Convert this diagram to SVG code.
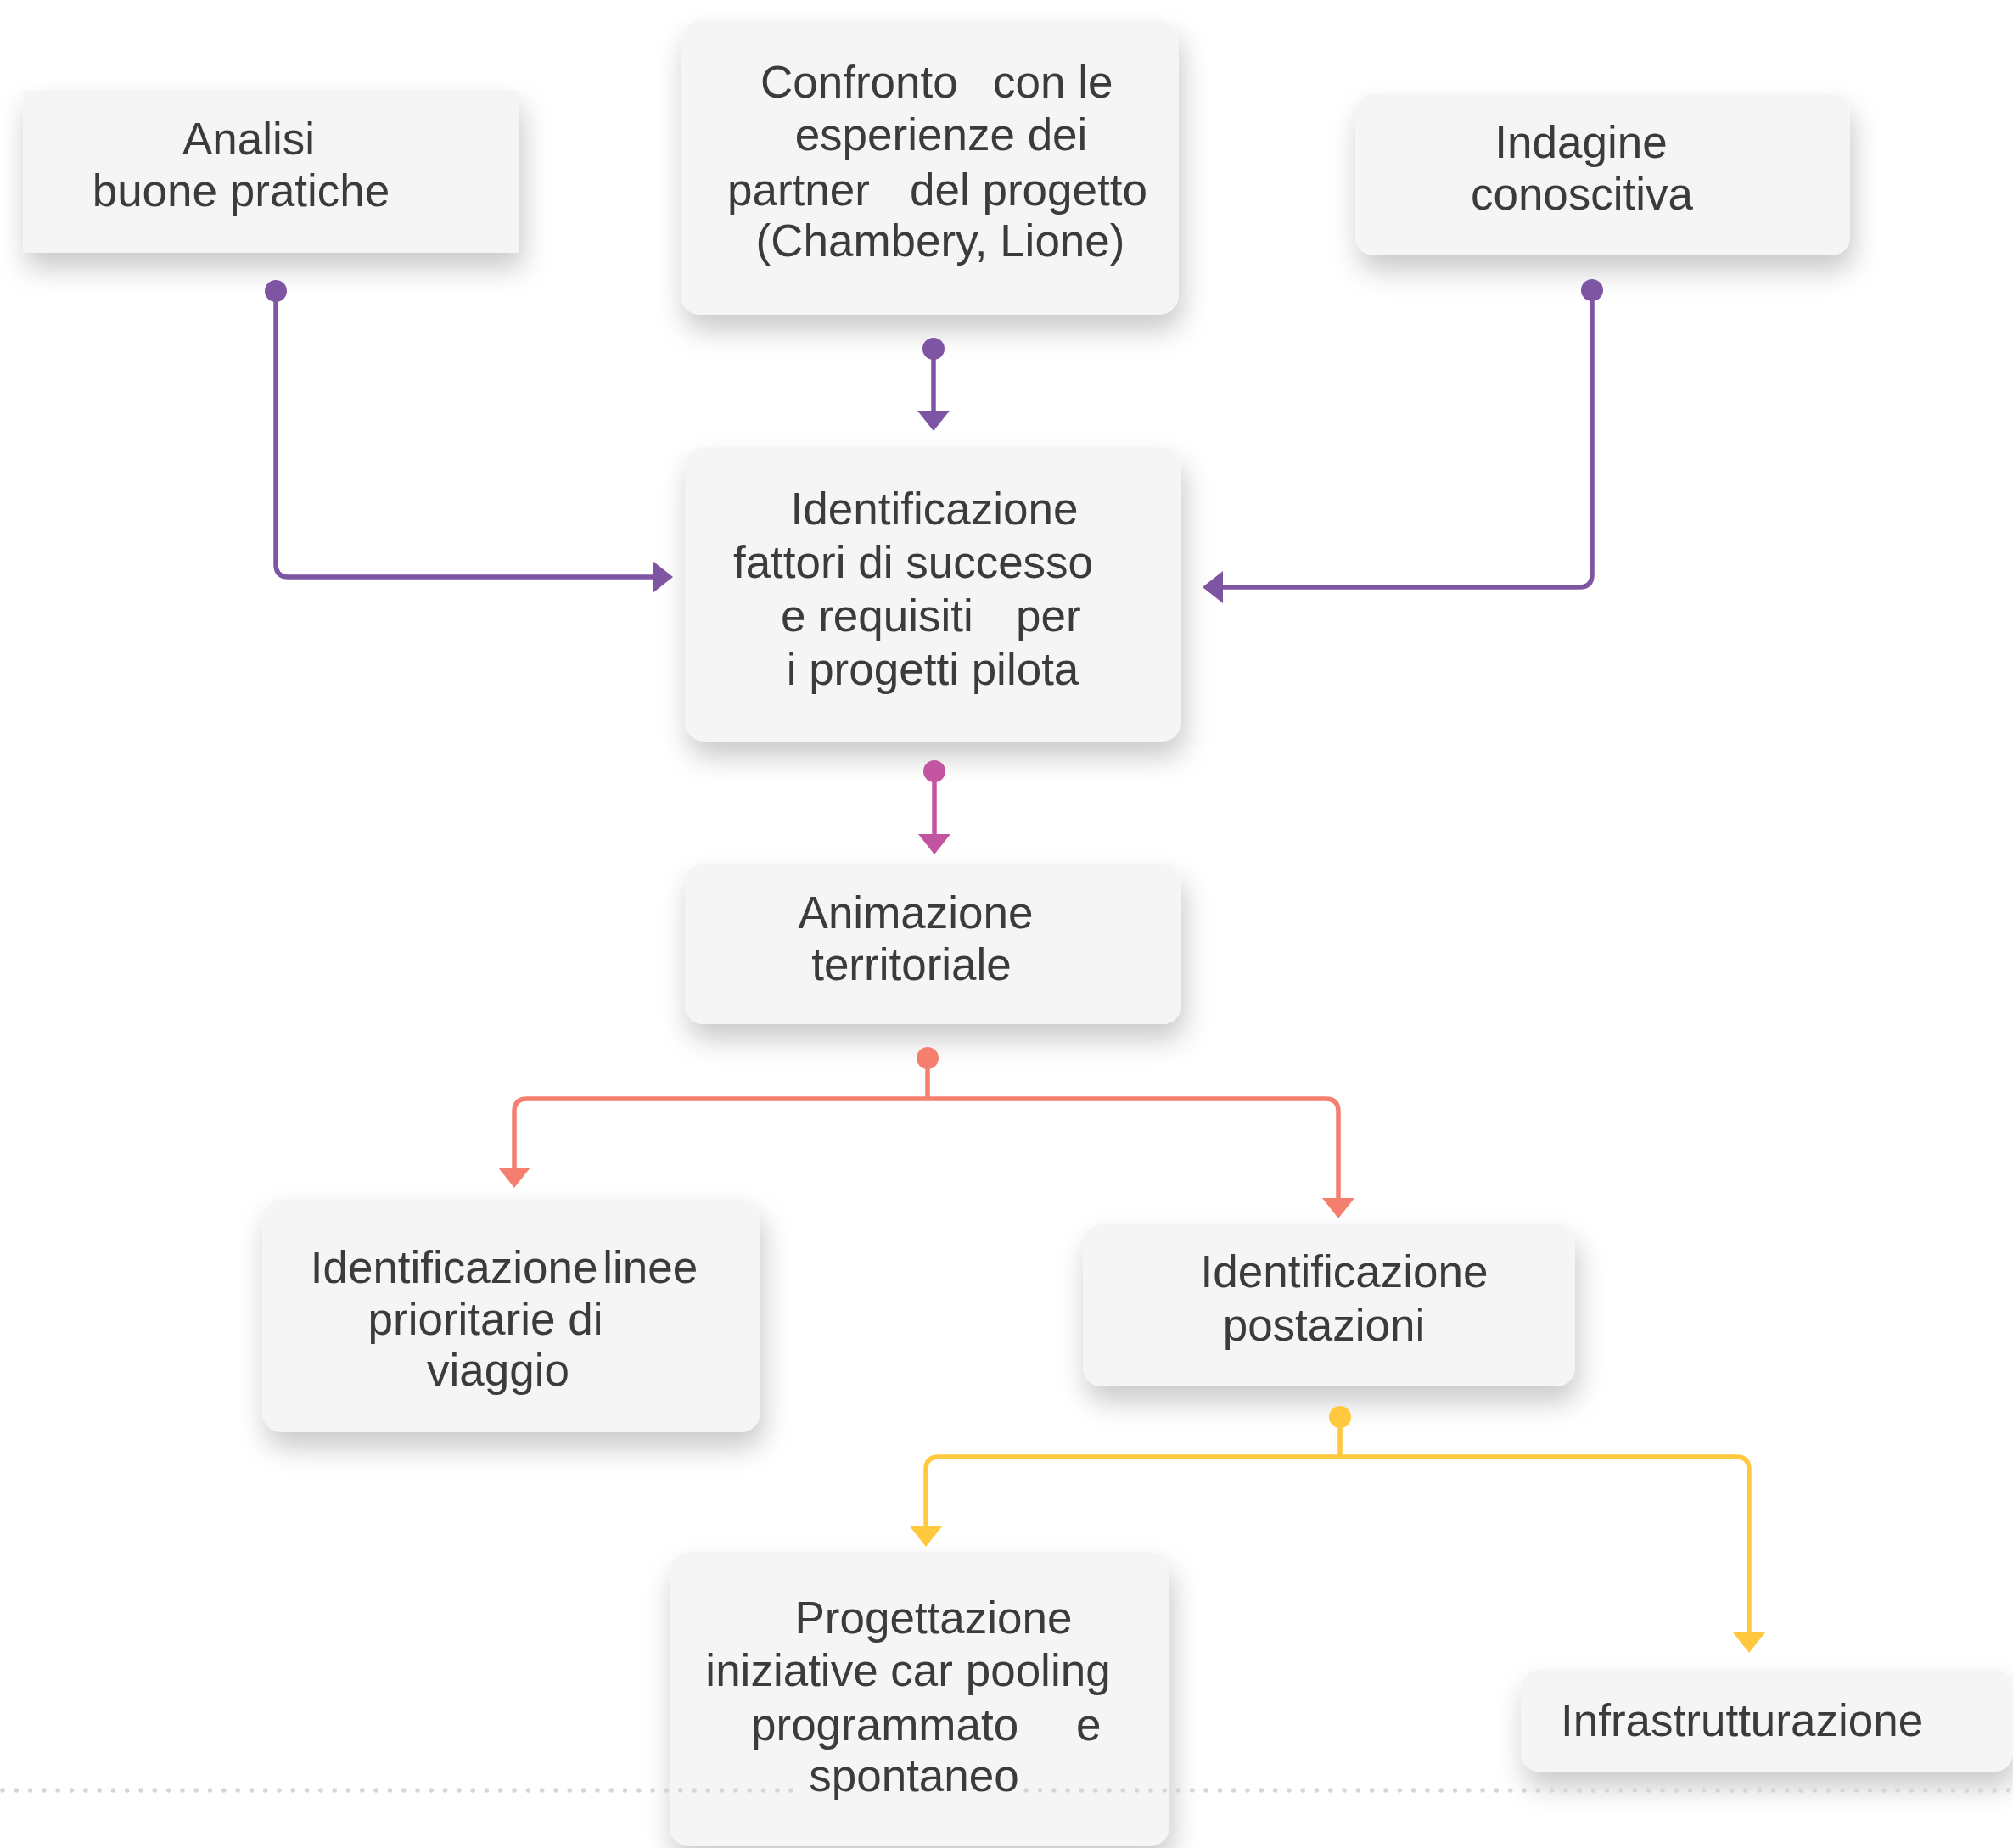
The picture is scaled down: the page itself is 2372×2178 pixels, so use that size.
<svg xmlns="http://www.w3.org/2000/svg" width="2372" height="2178" viewBox="0 0 2372 2178">
<defs>
<filter id="sh" x="-20%" y="-30%" width="140%" height="170%">
<feDropShadow dx="4" dy="18" stdDeviation="16" flood-color="#000" flood-opacity="0.21"/>
</filter>
<marker id="aP" markerUnits="userSpaceOnUse" markerWidth="30" markerHeight="40" refX="14" refY="19" orient="auto"><path d="M0,0 L24,19 L0,38 z" fill="#7E55A3"/></marker>
<marker id="aK" markerUnits="userSpaceOnUse" markerWidth="30" markerHeight="40" refX="14" refY="19" orient="auto"><path d="M0,0 L24,19 L0,38 z" fill="#C355A0"/></marker>
<marker id="aS" markerUnits="userSpaceOnUse" markerWidth="30" markerHeight="40" refX="14" refY="19" orient="auto"><path d="M0,0 L24,19 L0,38 z" fill="#F47F6F"/></marker>
<marker id="aY" markerUnits="userSpaceOnUse" markerWidth="30" markerHeight="40" refX="14" refY="19" orient="auto"><path d="M0,0 L24,19 L0,38 z" fill="#FFC83D"/></marker>
</defs>
<style>
.box{fill:#f5f5f5;filter:url(#sh)}
.t{font-family:"Liberation Sans",Arial,sans-serif;font-size:53px;fill:#3b3b3b}
.m{text-anchor:middle}
.c{fill:none;stroke-width:5.5;stroke-linejoin:round}
.p{stroke:#7E55A3}.k{stroke:#C355A0}.s{stroke:#F47F6F}.y{stroke:#FFC83D}
.dot{fill:none;stroke:#d6d6d6;stroke-width:5.5;stroke-linecap:round;stroke-dasharray:0 16.3}
</style>
<rect width="2372" height="2178" fill="#ffffff"/>

<g id="n-analisi">
<rect class="box" x="27" y="107" width="585" height="191" rx="2"/>
<text class="t m" x="293" y="182">Analisi</text>
<text class="t m" x="284" y="243">buone pratiche</text>
</g>

<g id="n-confronto">
<rect class="box" x="802" y="24" width="587" height="347" rx="24"/>
<text class="t" y="115"><tspan x="896">Confronto</tspan><tspan x="1170">con le</tspan></text>
<text class="t m" x="1109" y="177">esperienze dei</text>
<text class="t" y="242"><tspan x="857">partner</tspan><tspan x="1072">del progetto</tspan></text>
<text class="t m" x="1108" y="302">(Chambery, Lione)</text>
</g>

<g id="n-indagine">
<rect class="box" x="1597" y="111" width="583" height="190" rx="22"/>
<text class="t m" x="1863" y="186">Indagine</text>
<text class="t m" x="1864" y="247">conoscitiva</text>
</g>

<g id="n-fattori">
<rect class="box" x="807" y="527" width="585" height="347" rx="24"/>
<text class="t m" x="1101" y="618">Identificazione</text>
<text class="t m" x="1076" y="681">fattori di successo</text>
<text class="t" y="744"><tspan x="920">e requisiti</tspan><tspan x="1197">per</tspan></text>
<text class="t m" x="1099" y="807">i progetti pilota</text>
</g>

<g id="n-animazione">
<rect class="box" x="807" y="1018" width="585" height="189" rx="22"/>
<text class="t m" x="1079" y="1094">Animazione</text>
<text class="t m" x="1074" y="1155">territoriale</text>
</g>

<g id="n-linee">
<rect class="box" x="309" y="1413" width="587" height="275" rx="24"/>
<text class="t m" x="594" y="1512" word-spacing="-9">Identificazione linee</text>
<text class="t m" x="572" y="1573">prioritarie di</text>
<text class="t m" x="587" y="1633">viaggio</text>
</g>

<g id="n-postazioni">
<rect class="box" x="1276" y="1443" width="580" height="191" rx="22"/>
<text class="t m" x="1584" y="1517">Identificazione</text>
<text class="t m" x="1560" y="1580">postazioni</text>
</g>

<g id="n-progettazione">
<rect class="box" x="789" y="1829" width="589" height="347" rx="24"/>
<text class="t m" x="1100" y="1925">Progettazione</text>
<text class="t m" x="1070" y="1987">iniziative car pooling</text>
<text class="t" y="2051"><tspan x="885">programmato</tspan><tspan x="1268">e</tspan></text>
<text class="t m" x="1077" y="2111">spontaneo</text>
</g>

<g id="n-infra">
<rect class="box" x="1792" y="1968" width="580" height="120" rx="22"/>
<text class="t" x="1839" y="2046">Infrastrutturazione</text>
</g>

<g id="connectors">
<path class="c p" d="M325,343 V665 Q325,680 340,680 H783" marker-end="url(#aP)"/>
<circle cx="325" cy="343" r="13" fill="#7E55A3"/>
<path class="c p" d="M1100,411 V498" marker-end="url(#aP)"/>
<circle cx="1100" cy="411" r="13" fill="#7E55A3"/>
<path class="c p" d="M1876,342 V677 Q1876,692 1861,692 H1427" marker-end="url(#aP)"/>
<circle cx="1876" cy="342" r="13" fill="#7E55A3"/>
<path class="c k" d="M1101,909 V997" stroke-width="4.5" marker-end="url(#aK)"/>
<circle cx="1101" cy="909" r="13" fill="#C355A0"/>
<path class="c s" d="M1093,1247 V1295"/>
<path class="c s" d="M1093,1295 H621 Q606,1295 606,1310 V1390" marker-end="url(#aS)"/>
<path class="c s" d="M1093,1295 H1562 Q1577,1295 1577,1310 V1426" marker-end="url(#aS)"/>
<circle cx="1093" cy="1247" r="13" fill="#F47F6F"/>
<path class="c y" d="M1579,1670 V1717"/>
<path class="c y" d="M1579,1717 H1106 Q1091,1717 1091,1732 V1813" marker-end="url(#aY)"/>
<path class="c y" d="M1579,1717 H2046 Q2061,1717 2061,1732 V1938" marker-end="url(#aY)"/>
<circle cx="1579" cy="1670" r="13" fill="#FFC83D"/>
</g>

<g id="divider">
<path class="dot" d="M3,2110 H945"/>
<path class="dot" d="M1209.2,2110 H2372"/>
</g>
</svg>
